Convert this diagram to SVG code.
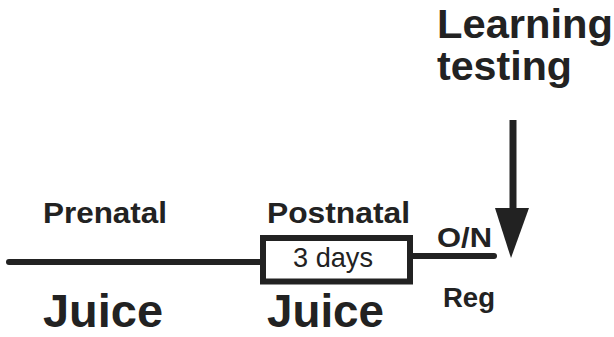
<svg xmlns="http://www.w3.org/2000/svg" width="614" height="337" viewBox="0 0 614 337">
<style>
.t{font-family:"Liberation Sans",Arial,sans-serif;font-weight:bold;fill:#222}
.n{font-family:"Liberation Sans",Arial,sans-serif;fill:#222}
.ln{stroke:#222;stroke-width:6;stroke-linecap:round;fill:none}
</style>
<rect width="614" height="337" fill="#fff"/>
<g id="connectors">
<line class="ln" x1="9" y1="262" x2="260" y2="262"/>
<line class="ln" x1="413" y1="256" x2="494" y2="256"/>
<line x1="513" y1="120" x2="513" y2="212" stroke="#222" stroke-width="7"/>
<polygon points="495,208 529,208 511,258" fill="#222"/>
</g>
<g id="box">
<rect x="263" y="238" width="147" height="43.5" fill="#fff" stroke="#222" stroke-width="6"/>
<text class="n" x="293" y="267" font-size="27.5" textLength="80" lengthAdjust="spacingAndGlyphs">3 days</text>
</g>
<g id="labels">
<text class="t" x="43" y="223" font-size="29.5" textLength="124" lengthAdjust="spacingAndGlyphs">Prenatal</text>
<text class="t" x="267" y="223" font-size="29.5" textLength="143" lengthAdjust="spacingAndGlyphs">Postnatal</text>
<text class="t" x="43" y="327" font-size="47" textLength="120" lengthAdjust="spacingAndGlyphs">Juice</text>
<text class="t" x="267" y="327" font-size="47" textLength="117" lengthAdjust="spacingAndGlyphs">Juice</text>
<text class="t" x="437" y="247" font-size="28.5" textLength="55" lengthAdjust="spacingAndGlyphs">O/N</text>
<text class="t" x="443" y="307" font-size="27" textLength="52" lengthAdjust="spacingAndGlyphs">Reg</text>
<text class="t" x="437" y="38" font-size="40" textLength="176" lengthAdjust="spacingAndGlyphs">Learning</text>
<text class="t" x="437" y="80" font-size="40" textLength="135" lengthAdjust="spacingAndGlyphs">testing</text>
</g>
</svg>
